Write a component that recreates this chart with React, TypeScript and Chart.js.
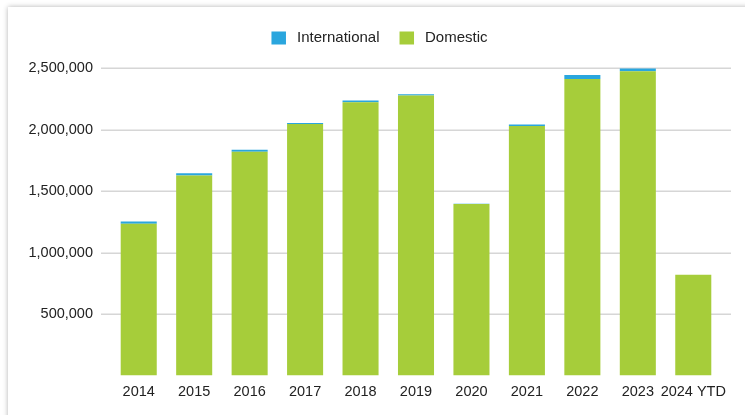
import React, { useEffect, useRef } from "react";
import { Chart, registerables } from "chart.js";

Chart.register(...registerables);

const categories = ["2014", "2015", "2016", "2017", "2018", "2019", "2020", "2021", "2022", "2023", "2024 YTD"];
const domestic = [1235000, 1627000, 1821000, 2046000, 2223000, 2277000, 1396000, 2029000, 2413000, 2475000, 820000];
const international = [19000, 19000, 16000, 8000, 14000, 11000, 2000, 14000, 32000, 22000, 1000];
const yTicks = [500000, 1000000, 1500000, 2000000, 2500000];

const FAMILY = "'Liberation Sans', Arial, sans-serif";
const FONT = { family: FAMILY, size: 14.5 };
const TEXT = "#222222";

const gridPlugin = {
  id: "extGrid",
  beforeDatasetsDraw(chart: any) {
    const { ctx, chartArea, scales } = chart;
    const y = scales.y;
    ctx.save();
    ctx.strokeStyle = "#d6d6d6";
    ctx.lineWidth = 1.5;
    yTicks.forEach((v) => {
      const py = Math.round(y.getPixelForValue(v)) + 0.25;
      ctx.beginPath();
      ctx.moveTo(chartArea.left - 10, py);
      ctx.lineTo(chartArea.right + 10, py);
      ctx.stroke();
    });
    ctx.restore();
  },
};

const legendPlugin = {
  id: "customLegend",
  afterDraw(chart: any) {
    const { ctx, width } = chart;
    const items = chart.data.datasets
      .map((d: any) => ({ text: d.label, color: d.backgroundColor }))
      .reverse();
    const box = 14.5;
    const boxGap = 11;
    const itemGap = 20;
    ctx.save();
    ctx.font = `15px ${FAMILY}`;
    const widths = items.map((it: any) => box + boxGap + ctx.measureText(it.text).width);
    const total = widths.reduce((a: number, b: number) => a + b, 0) + itemGap * (items.length - 1);
    let x = width / 2 + 7 - total / 2;
    const cy = 38;
    items.forEach((it: any, i: number) => {
      ctx.fillStyle = it.color;
      ctx.fillRect(x, cy - 6.5, box, 13);
      ctx.fillStyle = TEXT;
      ctx.textBaseline = "middle";
      ctx.textAlign = "left";
      ctx.fillText(it.text, x + box + boxGap, cy);
      x += widths[i] + itemGap;
    });
    ctx.restore();
  },
};

export default function App() {
  const ref = useRef<HTMLCanvasElement | null>(null);
  useEffect(() => {
    if (!ref.current) return;
    const chart = new Chart(ref.current, {
      type: "bar",
      data: {
        labels: categories,
        datasets: [
          { label: "Domestic", data: domestic, backgroundColor: "#a6cd3a", borderWidth: 0 },
          { label: "International", data: international, backgroundColor: "#2aa6de", borderWidth: 0 },
        ],
      },
      options: {
        responsive: false,
        animation: false,
        layout: { padding: { top: 56.5, right: 24, bottom: 6, left: 0 } },
        datasets: { bar: { categoryPercentage: 1, barPercentage: 0.65 } },
        plugins: {
          legend: { display: false },
          tooltip: { enabled: false },
        },
        scales: {
          x: {
            stacked: true,
            grid: { display: false, drawTicks: false },
            border: { display: false },
            ticks: { color: TEXT, font: FONT, padding: 8, maxRotation: 0, autoSkip: false },
          },
          y: {
            stacked: true,
            min: 0,
            max: 2595000,
            grid: { display: false, drawTicks: false },
            border: { display: false },
            afterBuildTicks: (scale: any) => {
              scale.ticks = yTicks.map((v) => ({ value: v }));
            },
            afterFit: (scale: any) => {
              scale.width = 111;
            },
            ticks: {
              color: TEXT,
              font: FONT,
              padding: 18,
              callback: (v: any) => Number(v).toLocaleString("en-US"),
            },
          },
        },
      },
      plugins: [gridPlugin, legendPlugin],
    });
    return () => chart.destroy();
  }, []);
  return (
    <div>
      <div
        style={{
          position: "fixed",
          left: 8,
          top: 7,
          width: 800,
          height: 500,
          background: "#fff",
          boxShadow: "0 0 5px rgba(0,0,0,0.3)",
        }}
      />
      <canvas
        ref={ref}
        width={745}
        height={415}
        style={{ position: "fixed", left: 0, top: 0, width: 745, height: 415 }}
      />
    </div>
  );
}
